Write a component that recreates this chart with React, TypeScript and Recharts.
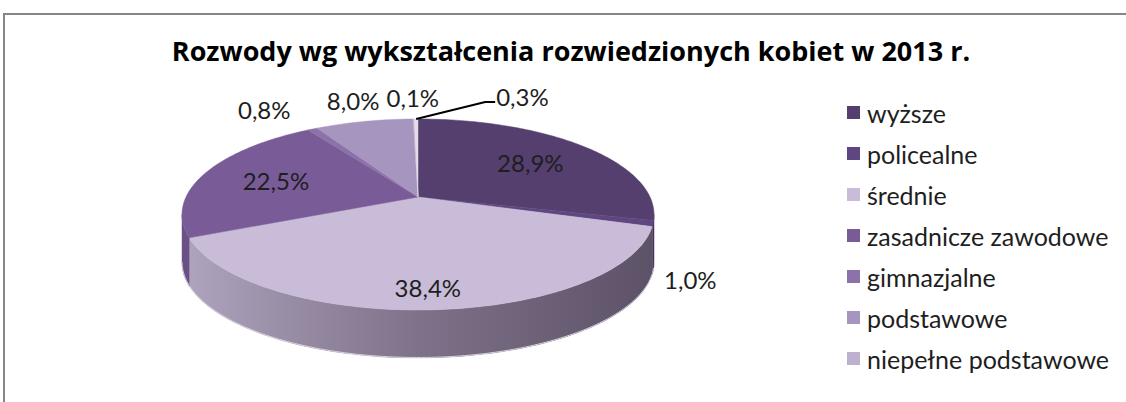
import { PieChart, Pie, Legend } from 'recharts';

// education level of divorced women, 2013
const categories = [
  'wyższe',
  'policealne',
  'średnie',
  'zasadnicze zawodowe',
  'gimnazjalne',
  'podstawowe',
  'niepełne podstawowe',
  'nieustalone',
];
const shares = [28.9, 1.0, 38.4, 22.5, 0.8, 8.0, 0.1, 0.3];
const colors = ['#543f6e', '#5f4680', '#c8bcd8', '#795b98', '#8b72a9', '#a695be', '#bdb1cf', '#e2dde8'];

const data = categories.map((name, i) => ({ name, value: shares[i] }));

// fake 3D: a perspective-projected disc, pushed down by DEPTH for the rim
const RX = 232;
const RY = 92.3;
const K = 0.183;
const DEPTH = 48;
const FONT = 'Lato, "Open Sans", sans-serif';

function project(cx: number, cy: number, theta: number, r = 1, drop = 0) {
  const t = (theta * Math.PI) / 180;
  const u = r * Math.sin(t);
  const v = r * Math.cos(t);
  const d = 1 + K * v;
  return [cx + (RX * u) / d, cy - (RY * v) / d + drop];
}

function arcPoints(cx: number, cy: number, a: number, b: number, drop = 0) {
  const pts: number[][] = [];
  const n = Math.max(2, Math.ceil(Math.abs(b - a)));
  for (let i = 0; i <= n; i++) pts.push(project(cx, cy, a + ((b - a) * i) / n, 1, drop));
  return pts;
}

const toPath = (pts: number[][]) => pts.map((p, i) => `${i ? 'L' : 'M'}${p[0].toFixed(2)},${p[1].toFixed(2)}`).join(' ');

const renderSlice = (p: any) => {
  const { cx, cy, index } = p;
  const t0 = 90 - p.startAngle;
  const t1 = 90 - p.endAngle;
  const fill = colors[index];
  const top = toPath([[cx, cy], ...arcPoints(cx, cy, t0, t1)]) + ' Z';

  // only the near part of the rim can be seen
  const vis0 = 90 + (Math.asin(K) * 180) / Math.PI;
  const vis1 = 360 - vis0;
  const a = Math.max(t0, vis0);
  const b = Math.min(t1, vis1);
  let side = '';
  let bottomEdge = '';
  if (b > a) {
    side = toPath([...arcPoints(cx, cy, a, b), ...arcPoints(cx, cy, b, a, DEPTH)]) + ' Z';
    bottomEdge = toPath(arcPoints(cx, cy, a, b, DEPTH - 0.5));
  }
  return (
    <g>
      {side && <path d={side} fill={fill} stroke={fill} strokeWidth={0.5} />}
      {side && <path d={side} fill="url(#rimShade)" stroke="none" />}
      {bottomEdge && <path d={bottomEdge} fill="none" stroke="#d8d4dc" strokeWidth={1} />}
      <path d={top} fill={fill} stroke={fill} strokeWidth={0.5} />
    </g>
  );
};

const fmt = (v: number) => `${v.toFixed(1).replace('.', ',')}%`;

const renderValue = (p: any) => {
  const { cx, cy, index, value } = p;
  const theta = 90 - p.midAngle;
  const t = (theta * Math.PI) / 180;
  const u = Math.sin(t);
  const v = Math.cos(t);
  const textStyle = { fontFamily: FONT, fontSize: 24, fill: '#1e1e1e' };

  if (value > 10) {
    const [x, y] = project(cx, cy, theta, 0.66);
    return (
      <text x={x} y={y + DEPTH * 0.45 * Math.max(0, -v)} textAnchor="middle" dominantBaseline="central" style={textStyle}>
        {fmt(value)}
      </text>
    );
  }

  const prev = index > 0 ? shares[index - 1] : 100;
  const gap = (3.6 * (prev + value)) / 2;
  if (gap < 5) {
    // crowded: push the label aside with a leader line
    const [rx, ry] = project(cx, cy, theta, 1);
    const ex = rx + 69;
    const ey = ry - 17;
    return (
      <g>
        <path d={`M${rx},${ry} L${ex},${ey} L${ex + 10},${ey}`} stroke="#000" strokeWidth={2} fill="none" />
        <text x={ex + 11} y={ey - 5} textAnchor="start" dominantBaseline="central" style={textStyle}>
          {fmt(value)}
        </text>
      </g>
    );
  }

  if (v < 0) {
    const [x, y0] = project(cx, cy, theta, 1.15);
    return (
      <text x={x} y={y0 + DEPTH + 4} textAnchor="middle" dominantBaseline="central" style={textStyle}>
        {fmt(value)}
      </text>
    );
  }
  const [x, y0] = project(cx, cy, theta, 1.25);
  return (
    <text x={x} y={y0 - 6 * v} textAnchor={u < -0.4 ? 'end' : 'middle'} dominantBaseline="central" style={textStyle}>
      {fmt(value)}
    </text>
  );
};

const renderLegend = (props: any) => {
  const seen = new Set<string>();
  const items = (props.payload || [])
    .filter((it: any) => it.type !== 'none' && !seen.has(it.value) && seen.add(it.value))
    .sort((a: any, b: any) => categories.indexOf(a.value) - categories.indexOf(b.value))
    .slice(0, 7);
  return (
    <div>
      {items.map((item: any) => (
        <div
          key={item.value}
          style={{ display: 'flex', alignItems: 'center', height: 41, fontFamily: FONT, fontSize: 25, color: '#1e1e1e' }}
        >
          <span
            style={{
              display: 'inline-block',
              width: 13,
              height: 13,
              background: colors[categories.indexOf(item.value)],
              marginRight: 7,
            }}
          />
          <span style={{ whiteSpace: 'nowrap' }}>{item.value}</span>
        </div>
      ))}
    </div>
  );
};

export default function App() {
  return (
    <div style={{ position: 'fixed', left: 0, top: 0, width: 1126, height: 402, overflow: 'hidden', background: '#fff' }}>
      <div
        style={{
          position: 'absolute',
          left: 3,
          top: 13,
          width: 1200,
          height: 500,
          border: '2px solid #868686',
          background: '#fff',
        }}
      />
      <div
        style={{
          position: 'absolute',
          left: 0,
          width: 1126,
          top: 32,
          textAlign: 'center',
          fontFamily: '"Open Sans", sans-serif',
          fontWeight: 700,
          fontSize: 27,
          color: '#000',
          paddingLeft: 16,
          boxSizing: 'border-box',
          whiteSpace: 'nowrap',
        }}
      >
        Rozwody wg wykształcenia rozwiedzionych kobiet w 2013 r.
      </div>
      <div style={{ position: 'absolute', left: 0, top: 0 }}>
        <PieChart width={1126} height={402} margin={{ top: 0, right: 0, bottom: 0, left: 0 }}>
          <defs>
            <linearGradient id="rimShade" gradientUnits="userSpaceOnUse" x1={182} y1={0} x2={656} y2={0}>
              <stop offset="0%" stopColor="#1a1020" stopOpacity={0.14} />
              <stop offset="50%" stopColor="#1a1020" stopOpacity={0.43} />
              <stop offset="100%" stopColor="#1a1020" stopOpacity={0.62} />
            </linearGradient>
          </defs>
          <Pie
            data={data}
            dataKey="value"
            nameKey="name"
            cx={418}
            cy={197}
            outerRadius={90}
            startAngle={90}
            endAngle={-270}
            fill="none"
            stroke="none"
            label={renderSlice}
            labelLine={false}
            isAnimationActive={false}
          />
          <Pie
            data={data}
            dataKey="value"
            nameKey="name"
            cx={418}
            cy={197}
            outerRadius={90}
            startAngle={90}
            endAngle={-270}
            fill="none"
            stroke="none"
            legendType="none"
            label={renderValue}
            labelLine={false}
            isAnimationActive={false}
          />
          <Legend
            layout="vertical"
            align="right"
            verticalAlign="top"
            content={renderLegend}
            wrapperStyle={{ left: 847, top: 92, width: 279 }}
          />
        </PieChart>
      </div>
    </div>
  );
}
